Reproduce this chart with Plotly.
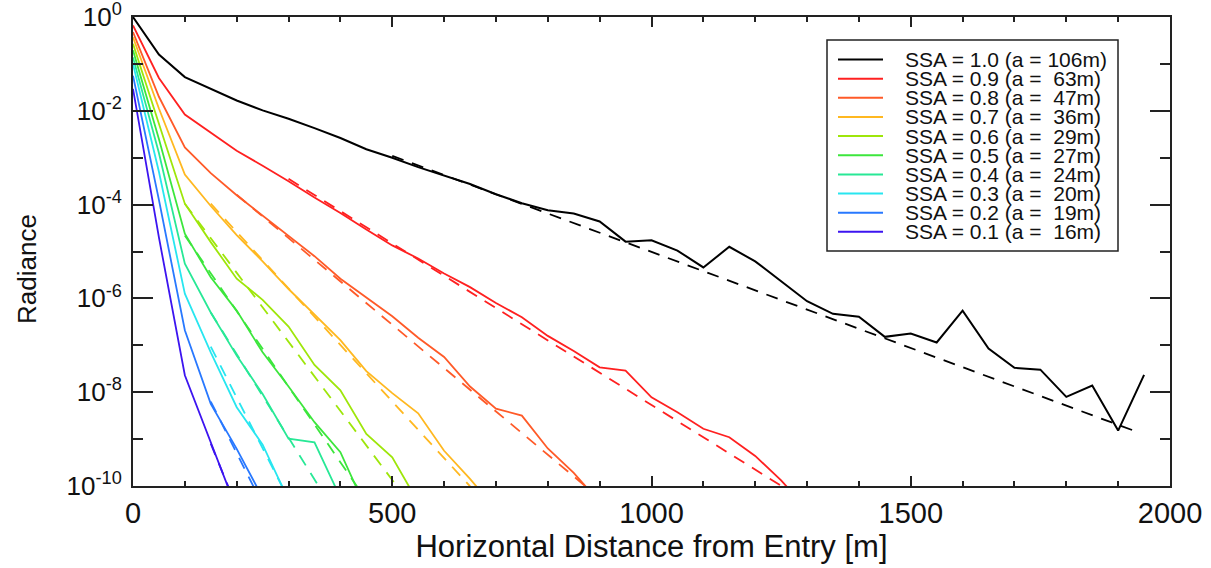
import plotly.graph_objects as go

# horizontal distance from entry [m], 50 m bins
distance = list(range(0, 2000, 50))

# single scattering albedo and fitted attenuation length a [m]
ssa = ["1.0", "0.9", "0.8", "0.7", "0.6", "0.5", "0.4", "0.3", "0.2", "0.1"]
atten_len = [106, 63, 47, 36, 29, 27, 24, 20, 19, 16]

# log10(radiance) per 50 m bin
rad_10 = [0.0, -0.80, -1.28, -1.53, -1.78, -1.99, -2.17, -2.37, -2.58, -2.82,
          -3.00, -3.20, -3.38, -3.56, -3.78, -3.97, -4.12, -4.19, -4.36, -4.79,
          -4.76, -4.98, -5.34, -4.90, -5.21, -5.63, -6.06, -6.33, -6.39, -6.82,
          -6.75, -6.94, -6.26, -7.07, -7.48, -7.52, -8.10, -7.86, -8.82, -7.63]
rad_09 = [-0.18, -1.30, -2.08, -2.46, -2.85, -3.17, -3.50, -3.85, -4.18, -4.53,
          -4.87, -5.15, -5.47, -5.76, -6.10, -6.40, -6.80, -7.12, -7.47, -7.54,
          -8.11, -8.43, -8.78, -8.96, -9.36, -9.88, -10.5]
rad_08 = [-0.32, -1.70, -2.78, -3.33, -3.80, -4.23, -4.66, -5.10, -5.58, -5.98,
          -6.38, -6.84, -7.25, -7.88, -8.35, -8.50, -9.20, -9.72, -10.35]
rad_07 = [-0.43, -1.95, -3.36, -4.03, -4.65, -5.21, -5.80, -6.34, -6.89, -7.55,
          -8.02, -8.45, -9.25, -9.85, -10.5]
rad_06 = [-0.57, -2.25, -3.98, -4.80, -5.58, -6.03, -6.60, -7.42, -7.96, -8.89,
          -9.39, -10.35]
rad_05 = [-0.71, -2.60, -4.62, -5.55, -6.26, -7.15, -7.88, -8.64, -9.28, -10.5]
rad_04 = [-0.86, -2.90, -5.26, -6.30, -7.22, -8.04, -8.99, -9.07, -10.25]
rad_03 = [-1.00, -3.30, -5.90, -7.15, -8.32, -9.12, -10.3]
rad_02 = [-1.25, -3.90, -6.68, -8.25, -9.21, -10.25]
rad_01 = [-1.53, -4.70, -7.64, -9.05, -10.5]

# exponential fits (dashed): straight on log axis, ends
fit_x0 = [500, 300, 200, 150, 100, 100, 150, 150, 150, 150]
fit_y0 = [-2.96, -3.45, -3.79, -3.98, -3.98, -4.66, -6.30, -7.03, -8.20, -9.10]
fit_x1 = [1930, 1300, 950, 700, 550, 450, 400, 300, 250, 200]
fit_y1 = [-8.82, -10.34, -10.72, -10.61, -10.61, -10.30, -10.75, -10.28, -10.40, -10.45]

colors = ["#000000", "#ff2020", "#ff5a28", "#ffb820", "#9ee60a",
          "#3ce63c", "#28e896", "#28e6f0", "#2878ff", "#3c14f0"]

series = [rad_10, rad_09, rad_08, rad_07, rad_06, rad_05, rad_04, rad_03, rad_02, rad_01]

W, H = 1211, 568
L, R, T, B = 133, 41, 17, 82
FONT = "Liberation Sans"

fig = go.Figure()

for i, vals in enumerate(series):
    c = colors[i]
    fig.add_trace(go.Scatter(
        x=[fit_x0[i], fit_x1[i]], y=[10 ** fit_y0[i], 10 ** fit_y1[i]],
        mode="lines", line=dict(color=c, width=1.8, dash="12px,9px"),
        showlegend=False, hoverinfo="skip"))
    fig.add_trace(go.Scatter(
        x=distance[:len(vals)], y=[10 ** v for v in vals],
        mode="lines", line=dict(color=c, width=2 if i == 0 else 1.8),
        name=f"SSA = {ssa[i]}", showlegend=False))


# hand-placed legend box (rows are tighter than plotly's legend allows)
def px_x(p):
    return (p - L) / (W - L - R)


def px_y(p):
    return (H - B - p) / (H - T - B)


shapes = [dict(type="rect", xref="paper", yref="paper",
               x0=px_x(827), x1=px_x(1118), y0=px_y(251), y1=px_y(40),
               line=dict(color="#222", width=1.5), fillcolor="white", layer="above")]
annotations = []
row0, row_step = 59.5, 19.15
for i in range(len(ssa)):
    yy = px_y(row0 + i * row_step)
    shapes.append(dict(type="line", xref="paper", yref="paper",
                       x0=px_x(838), x1=px_x(883), y0=yy, y1=yy,
                       line=dict(color=colors[i], width=2), layer="above"))
    a_txt = " " + "\u00a0" * (3 - len(str(atten_len[i]))) + str(atten_len[i])
    annotations.append(dict(
        xref="paper", yref="paper", x=px_x(903), y=yy, xanchor="left", yanchor="middle",
        text=f"SSA = {ssa[i]} (a ={a_txt}m)", showarrow=False,
        font=dict(family=FONT, size=21, color="#111")))

annotations.append(dict(
    xref="paper", yref="paper", x=px_x(27), y=px_y(269), xanchor="center", yanchor="middle",
    text="Radiance", textangle=-90, showarrow=False,
    font=dict(family=FONT, size=26, color="#111")))

exps = list(range(-10, 1, 2))
fig.update_layout(
    width=W, height=H,
    margin=dict(l=L, r=R, t=T, b=B, autoexpand=False),
    paper_bgcolor="white", plot_bgcolor="white",
    font=dict(family=FONT, color="#111"),
    shapes=shapes, annotations=annotations,
    showlegend=False,
)
fig.update_xaxes(
    range=[0, 2000], tickvals=[0, 500, 1000, 1500, 2000],
    ticks="inside", ticklen=10, tickwidth=1.5, tickcolor="#222",
    minor=dict(dtick=100, ticks="inside", ticklen=5, tickwidth=1.5, tickcolor="#222"),
    showline=True, linecolor="#222", linewidth=2, mirror="allticks",
    showgrid=False, zeroline=False, automargin=False, ticklabeloverflow="allow",
    tickfont=dict(family=FONT, size=29, color="#111"),
    title=dict(text="Horizontal Distance from Entry [m]", standoff=2,
               font=dict(family=FONT, size=31, color="#111")),
)
fig.update_yaxes(
    type="log", range=[-10.001, 0.001],
    tickvals=[10 ** e for e in exps],
    ticktext=[f"10<sup>{e}</sup>" for e in exps],
    ticks="inside", ticklen=20, tickwidth=1.5, tickcolor="#222",
    minor=dict(tickvals=[10 ** e for e in range(-9, 0, 2)], ticks="inside",
               ticklen=10, tickwidth=1.5, tickcolor="#222"),
    showline=True, linecolor="#222", linewidth=2, mirror="allticks",
    showgrid=False, zeroline=False, automargin=False, ticklabeloverflow="allow",
    ticklabelstandoff=4,
    tickfont=dict(family=FONT, size=26, color="#111"),
)

# the page body has a default 8px margin; drop it so the figure sits at (0, 0)
fig.write_html("out.html", config={"displayModeBar": False},
               post_script="document.body.style.margin='0';")
